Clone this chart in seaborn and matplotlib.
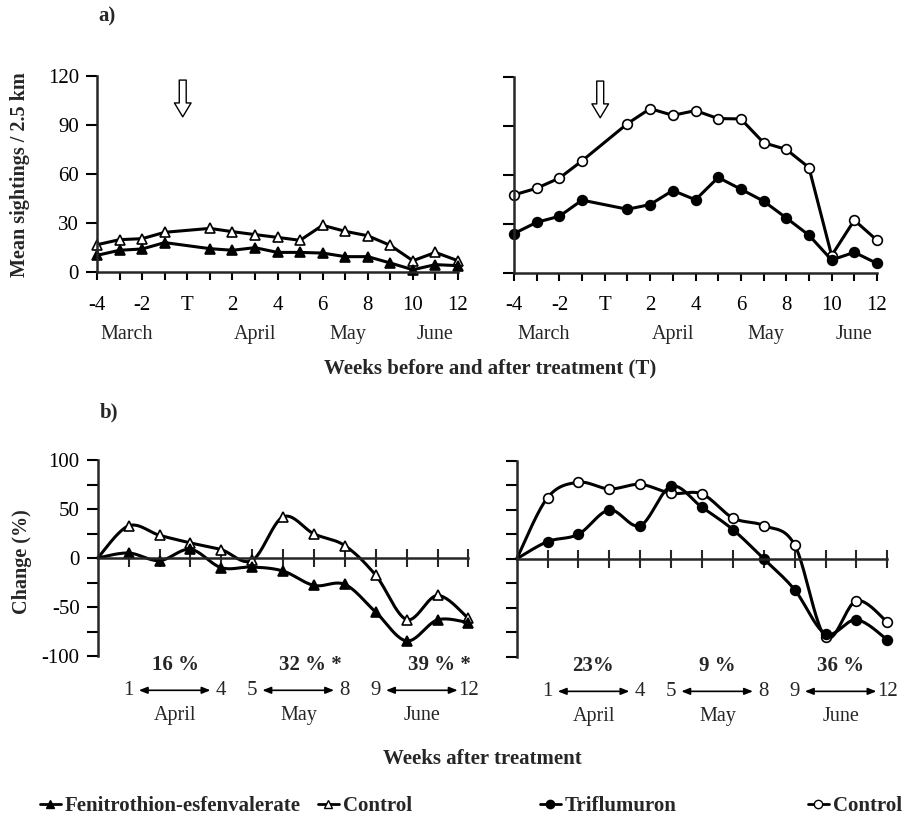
import numpy as np
import matplotlib
matplotlib.use('Agg')
import matplotlib.pyplot as plt
import seaborn as sns
from matplotlib.lines import Line2D

# weekly sightings (week 0 = treatment, not sampled)
weeks_a = [-4, -3, -2, -1, 1, 2, 3, 4, 5, 6, 7, 8, 9, 10, 11, 12]
fen_sight = [10.2, 13.3, 14.1, 18.0, 14.3, 13.3, 14.9, 12.0, 12.0, 11.6, 9.4, 9.4, 5.5, 1.4, 4.5, 3.9]
fen_ctrl_sight = [16.7, 19.8, 20.4, 24.3, 26.7, 24.7, 22.9, 21.2, 19.4, 28.6, 24.9, 22.2, 16.3, 6.9, 12.0, 6.9]
tri_sight = [24.0, 30.9, 34.6, 44.5, 38.9, 41.8, 50.4, 44.7, 58.4, 51.2, 43.9, 33.6, 23.0, 7.8, 12.5, 5.7]
tri_ctrl_sight = [47.7, 51.8, 58.0, 68.6, 91.4, 100.6, 96.5, 99.4, 94.5, 94.3, 79.7, 75.6, 64.5, 10.5, 32.2, 19.9]
week_ticks_a = list(range(-4, 13))
week_labels_a = ['-4', '', '-2', '', 'T', '', '2', '', '4', '', '6', '', '8', '', '10', '', '12']
months_a = ['March', 'April', 'May', 'June']

# change (%) after treatment
weeks_b = list(range(0, 13))
fen_change = [0, 5.1, -2.7, 8.9, -9.9, -9.2, -13.3, -28.0, -27.0, -55.3, -84.6, -63.1, -66.0]
fen_ctrl_change = [0, 32.8, 23.2, 15.4, 8.5, -2.4, 42.0, 24.6, 12.6, -17.7, -62.8, -38.2, -61.7]
tri_change = [0, 17.6, 25.1, 49.8, 33.9, 73.9, 52.5, 29.8, 0.0, -31.5, -76.3, -62.0, -82.4]
tri_ctrl_change = [0, 62.4, 78.0, 71.2, 75.9, 66.8, 66.1, 41.7, 33.9, 14.2, -79.7, -42.7, -64.4]
periods = [(1, 4), (5, 8), (9, 12)]
months_b = ['April', 'May', 'June']
left_pct = ['16 %', '32 % *', '39 % *']
right_pct = ['23%', '9 %', '36 %']

sns.set_theme(style='ticks')
plt.rcParams['font.family'] = ['Liberation Serif', 'DejaVu Serif']
plt.rcParams['axes.unicode_minus'] = False
plt.rcParams['axes.linewidth'] = 1.8
plt.rcParams['xtick.major.width'] = 1.5
plt.rcParams['ytick.major.width'] = 1.5
plt.rcParams['ytick.minor.width'] = 1.5

W, H = 909, 823
fig = plt.figure(figsize=(W / 100, H / 100), dpi=100)


def box(l, r, t, b):
    return [l / W, 1 - b / H, (r - l) / W, (b - t) / H]


def catmull(x, y, n=24):
    # smoothed path through the points (drawing only)
    p = np.column_stack([x, y]).astype(float)
    p = np.vstack([p[0], p, p[-1]])
    t = np.linspace(0, 1, n)[:, None]
    segs = []
    for i in range(1, len(p) - 2):
        p0, p1, p2, p3 = p[i - 1], p[i], p[i + 1], p[i + 2]
        segs.append(0.5 * (2 * p1 + (p2 - p0) * t
                           + (2 * p0 - 5 * p1 + 4 * p2 - p3) * t ** 2
                           + (3 * p1 - p0 - 3 * p2 + p3) * t ** 3))
    s = np.vstack(segs)
    return s[:, 0], s[:, 1]


def style_top(ax, labels):
    ax.set_xlim(-4, 12)
    ax.set_ylim(0, 120)
    sns.despine(ax=ax)
    ax.set_xticks(week_ticks_a)
    ax.set_xticklabels(week_labels_a)
    ax.set_yticks([0, 30, 60, 90, 120])
    if not labels:
        ax.set_yticklabels([])
    ax.tick_params(axis='x', direction='out', length=6, pad=11, labelsize=15, colors='black')
    ax.tick_params(axis='y', direction='out', length=8, pad=5, labelsize=15, colors='black')
    ax.set_xlabel('')
    ax.set_ylabel('')
    for m, xm in zip(months_a, [-2.7, 3.0, 7.1, 11.0]):
        ax.text(xm, -38, m, ha='center', va='center', fontsize=14.5)
    ax.annotate('', xy=(-0.2, 95), xytext=(-0.2, 117.5), annotation_clip=False,
                arrowprops=dict(arrowstyle='simple,head_length=0.5,head_width=0.6,tail_width=0.25',
                                fc='white', ec='black', lw=1, mutation_scale=20,
                                shrinkA=0, shrinkB=0))


def style_bottom(ax, labels, pcts, pct_x):
    ax.set_xlim(0, 12)
    ax.set_ylim(-100, 100)
    sns.despine(ax=ax)
    ax.spines['bottom'].set_position(('data', 0))
    ax.set_xticks(range(1, 13))
    ax.set_xticklabels([])
    ax.set_yticks([-100, -50, 0, 50, 100])
    ax.set_yticks([-75, -25, 25, 75], minor=True)
    if not labels:
        ax.set_yticklabels([])
    ax.tick_params(axis='x', direction='inout', length=13)
    ax.tick_params(axis='y', which='both', direction='out', length=8, pad=5, labelsize=15, colors='black')
    ax.set_xlabel('')
    ax.set_ylabel('')
    for (a, b), m, txt, xp in zip(periods, months_b, pcts, pct_x):
        ax.text(xp, -109, txt, ha='center', va='center', fontsize=15, fontweight='bold')
        ax.text(a, -135, str(a), ha='center', va='center', fontsize=15)
        ax.text(b, -135, str(b), ha='center', va='center', fontsize=15)
        ax.annotate('', xy=(b - 0.35, -135), xytext=(a + 0.33, -135), annotation_clip=False,
                    arrowprops=dict(arrowstyle='<|-|>,head_length=0.5,head_width=0.2',
                                    fc='black', ec='black', lw=1.2, mutation_scale=10,
                                    shrinkA=0, shrinkB=0))
        ax.text((a + b) / 2, -161, m, ha='center', va='center', fontsize=14.5)


line_kw = dict(color='black', linewidth=2.2, markersize=7, markeredgecolor='black',
               markeredgewidth=1.2, clip_on=False)

# a) mean sightings
ax1 = fig.add_axes(box(97, 458, 76, 272))
sns.lineplot(x=weeks_a, y=fen_ctrl_sight, ax=ax1, marker='^', markerfacecolor='white', **line_kw)
sns.lineplot(x=weeks_a, y=fen_sight, ax=ax1, marker='^', markerfacecolor='black', **line_kw)
style_top(ax1, True)

ax2 = fig.add_axes(box(514, 877, 77, 272.7))
sns.lineplot(x=weeks_a, y=tri_ctrl_sight, ax=ax2, marker='o', markerfacecolor='white', **line_kw)
sns.lineplot(x=weeks_a, y=tri_sight, ax=ax2, marker='o', markerfacecolor='black', **line_kw)
style_top(ax2, False)

# b) change (%)
ax3 = fig.add_axes(box(97.7, 468.5, 460, 656))
for vals, fc in [(fen_ctrl_change, 'white'), (fen_change, 'black')]:
    sx, sy = catmull(weeks_b, vals)
    ax3.plot(sx, sy, color='black', linewidth=2.2, clip_on=False)
    ax3.plot(weeks_b[1:], vals[1:], linestyle='none', marker='^', markerfacecolor=fc,
             markeredgecolor='black', markersize=7, markeredgewidth=1.2, clip_on=False)
style_bottom(ax3, True, left_pct, [2.53, 6.87, 11.07])

ax4 = fig.add_axes(box(516.7, 887.3, 460.7, 657))
for vals, fc in [(tri_ctrl_change, 'white'), (tri_change, 'black')]:
    sx, sy = catmull(weeks_b, vals)
    ax4.plot(sx, sy, color='black', linewidth=2.2, clip_on=False)
    ax4.plot(weeks_b[1:], vals[1:], linestyle='none', marker='o', markerfacecolor=fc,
             markeredgecolor='black', markersize=7, markeredgewidth=1.2, clip_on=False)
style_bottom(ax4, False, right_pct, [2.47, 6.5, 10.5])

# figure texts
def ftext(x, y, s, **kw):
    fig.text(x / W, 1 - y / H, s, ha='center', va='center', **kw)

ftext(107, 16, 'a)', fontsize=15, fontweight='bold')
ftext(109, 412, 'b)', fontsize=15, fontweight='bold')
ftext(490, 368, 'Weeks before and after treatment (T)', fontsize=15, fontweight='bold')
ftext(482, 759, 'Weeks after treatment', fontsize=15, fontweight='bold')
ftext(20, 175, 'Mean sightings / 2.5 km', fontsize=14.5, fontweight='bold', rotation=90)
ftext(22, 562, 'Change (%)', fontsize=14.5, fontweight='bold', rotation=90)

# legend, one entry per series
entries = [('^', 'black', 'Fenitrothion-esfenvalerate', 40),
           ('^', 'white', 'Control', 318),
           ('o', 'black', 'Triflumuron', 540),
           ('o', 'white', 'Control', 808)]
for mk, fc, lab, xl in entries:
    h = Line2D([], [], color='black', linewidth=2, marker=mk, markerfacecolor=fc,
               markeredgecolor='black', markersize=6)
    fig.legend([h], [lab], loc='center left', bbox_to_anchor=(xl / W, 1 - 806 / H),
               frameon=False, handlelength=1.0, handletextpad=0.2, borderpad=0, borderaxespad=0,
               prop=dict(family='Liberation Serif', weight='bold', size=15))

fig.savefig('out.png', dpi=100)
